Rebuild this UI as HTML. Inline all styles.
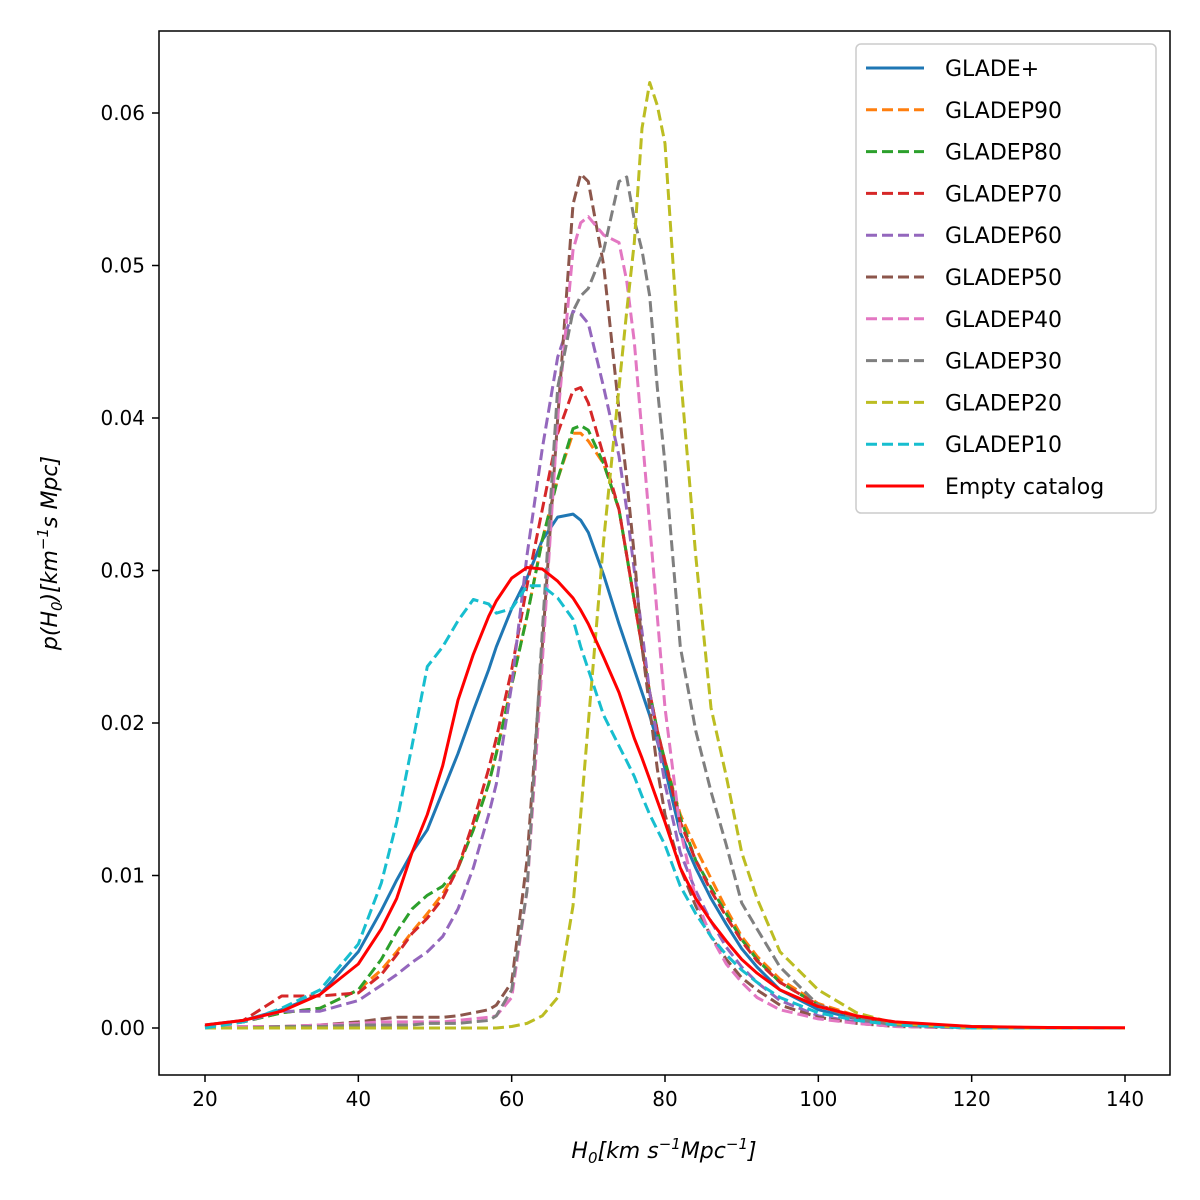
<!DOCTYPE html>
<html><head><meta charset="utf-8"><style>
html,body{margin:0;padding:0;background:#fff;}
svg{display:block;font-family:"DejaVu Sans","Liberation Sans",sans-serif;}
</style></head><body>
<svg id="chart" width="1200" height="1200" viewBox="0 0 1200 1200">
<rect x="0" y="0" width="1200" height="1200" fill="#fff"/>
<g id="plot"></g>
<rect x="159" y="31" width="1011" height="1044" fill="none" stroke="#000" stroke-width="1.5"/>
<g id="xticks"></g><g id="yticks"></g>
<text x="664" y="1158" text-anchor="middle" font-size="22" font-style="italic">H<tspan font-size="15" dy="5">0</tspan><tspan dy="-5">[km s</tspan><tspan font-size="15" dy="-9">−1</tspan><tspan dy="9">Mpc</tspan><tspan font-size="15" dy="-9">−1</tspan><tspan dy="9">]</tspan></text>
<text transform="translate(57,553) rotate(-90)" text-anchor="middle" font-size="22" font-style="italic">p(H<tspan font-size="15" dy="5">0</tspan><tspan dy="-5">)[km</tspan><tspan font-size="15" dy="-9">−1</tspan><tspan dy="9">s Mpc]</tspan></text>
<g id="legend"></g>
</svg>
<script>
const H = [20,25,30,35,40,43,45,47,49,51,53,55,57,58,60,62,64,66,68,69,70,72,74,75,76,77,78,79,80,82,84,86,88,90,92,95,100,105,110,120,130,140];
const gladePlus = [.0002,.0005,.0012,.0022,.005,.0077,.0097,.0115,.013,.0155,.018,.0208,.0235,.025,.0275,.0295,.032,.0335,.0337,.0333,.0325,.0297,.0265,.025,.0235,.022,.0205,.0188,.017,.0128,.0105,.0085,.0068,.0052,.004,.0025,.0012,.0006,.0003,.0001,0,0];
const gladeP90 = [.0001,.0004,.001,.0013,.0025,.0038,.005,.0063,.0075,.0088,.0105,.013,.016,.018,.0225,.027,.032,.036,.039,.039,.0385,.037,.034,.031,.028,.025,.022,.0195,.0175,.014,.0118,.0098,.0078,.006,.0047,.0032,.0016,.0008,.0003,.0001,0,0];
const gladeP80 = [.0001,.0004,.001,.0013,.0025,.0045,.0063,.0078,.0087,.0093,.0105,.013,.016,.018,.0225,.027,.032,.036,.0393,.0395,.0392,.037,.034,.031,.028,.025,.022,.0195,.0175,.0138,.011,.0092,.0075,.0058,.0045,.003,.0015,.0007,.0003,.00005,0,0];
const gladeP70 = [.0001,.0005,.0021,.0021,.0023,.0035,.0048,.0062,.0072,.0085,.0105,.0135,.017,.019,.0235,.029,.034,.039,.0418,.042,.041,.0375,.034,.031,.028,.025,.022,.0195,.0175,.0135,.011,.009,.0073,.0057,.0044,.003,.0015,.0007,.0003,.00005,0,0];
const gladeP60 = [.0001,.0004,.0011,.0011,.0018,.0028,.0035,.0043,.005,.006,.0078,.0105,.014,.016,.0225,.031,.038,.044,.047,.0468,.0462,.042,.0375,.034,.03,.026,.022,.019,.016,.0115,.009,.007,.0053,.004,.003,.0018,.0008,.0004,.0002,0,0,0];
const gladeP50 = [0,.0001,.0001,.0002,.0004,.0006,.0007,.0007,.0007,.0007,.0008,.001,.0012,.0015,.003,.011,.025,.04,.054,.056,.0555,.05,.0405,.036,.031,.025,.021,.017,.014,.0105,.008,.006,.0045,.0033,.0025,.0015,.0007,.0003,.0001,0,0,0];
const gladeP40 = [0,.0001,.0001,.0002,.0003,.0004,.0004,.0004,.0004,.0004,.0005,.0006,.0007,.0008,.002,.009,.024,.04,.051,.0528,.0532,.052,.0515,.049,.045,.039,.033,.027,.021,.013,.0085,.006,.0042,.003,.002,.0012,.0006,.0003,.0001,0,0,0];
const gladeP30 = [0,0,.0001,.0001,.0002,.0002,.0002,.0002,.0003,.0003,.0003,.0004,.0005,.0008,.0025,.009,.026,.042,.047,.048,.0485,.051,.0555,.0558,.053,.051,.048,.042,.037,.025,.0195,.0155,.012,.0082,.0065,.004,.0015,.0006,.0002,0,0,0];
const gladeP20 = [0,0,0,0,0,0,0,0,0,0,0,0,0,0,.0001,.0003,.0008,.002,.008,.014,.02,.032,.042,.047,.0515,.059,.062,.0605,.058,.043,.031,.021,.0165,.0115,.0085,.005,.0025,.001,.0003,0,0,0];
const gladeP10 = [0,.0004,.0013,.0025,.0055,.0095,.0135,.0185,.0237,.025,.0267,.0281,.0278,.0272,.0275,.029,.029,.0282,.0268,.025,.0235,.0205,.0185,.0175,.0165,.0152,.014,.013,.012,.0093,.0075,.006,.0048,.0038,.003,.002,.001,.0005,.0002,0,0,0];
const emptyCatalog = [.0002,.0005,.0011,.0022,.0042,.0065,.0085,.0115,.014,.0172,.0215,.0245,.027,.028,.0295,.0302,.0301,.0293,.0282,.0274,.0265,.0243,.022,.0205,.019,.0177,.0163,.0149,.0135,.0105,.0085,.007,.0057,.0045,.0036,.0025,.0014,.0008,.0004,.0001,.00003,.00001];
const seriesNames = ["GLADE+","GLADEP90","GLADEP80","GLADEP70","GLADEP60","GLADEP50","GLADEP40","GLADEP30","GLADEP20","GLADEP10","Empty catalog"];
const seriesValues = [gladePlus,gladeP90,gladeP80,gladeP70,gladeP60,gladeP50,gladeP40,gladeP30,gladeP20,gladeP10,emptyCatalog];
const seriesColors = ["#1f77b4","#ff7f0e","#2ca02c","#d62728","#9467bd","#8c564b","#e377c2","#7f7f7f","#bcbd22","#17becf","#ff0000"];
const seriesDashed = [false,true,true,true,true,true,true,true,true,true,false];
const xTicks = [20,40,60,80,100,120,140];
const yTicks = [0,0.01,0.02,0.03,0.04,0.05,0.06];
const yTickLabels = ["0.00","0.01","0.02","0.03","0.04","0.05","0.06"];

const NS="http://www.w3.org/2000/svg";
function xs(h){return 205+(h-20)*(920/120);}
function ys(p){return 1028-p*(915/0.06);}
function mk(t,a,parent){const e=document.createElementNS(NS,t);for(const k in a)e.setAttribute(k,a[k]);parent.appendChild(e);return e;}
const plot=document.getElementById('plot');
seriesValues.forEach((vals,i)=>{
  const d=vals.map((v,j)=>(j?'L':'M')+xs(H[j]).toFixed(1)+' '+ys(v).toFixed(1)).join(' ');
  const p=mk('path',{d:d,fill:'none',stroke:seriesColors[i],'stroke-width':3,'stroke-linejoin':'round'},plot);
  if(seriesDashed[i])p.setAttribute('stroke-dasharray','11 5');
  
  
});
const xg=document.getElementById('xticks');
xTicks.forEach(t=>{
  const l=mk('line',{x1:xs(t),x2:xs(t),y1:1075,y2:1082,stroke:'#000','stroke-width':1.5},xg);
  
  
  const tx=mk('text',{x:xs(t),y:1106,'text-anchor':'middle','font-size':20},xg);
  tx.textContent=t;
  
  
});
const yg=document.getElementById('yticks');
yTicks.forEach((t,i)=>{
  const l=mk('line',{x1:152,x2:159,y1:ys(t),y2:ys(t),stroke:'#000','stroke-width':1.5},yg);
  
  
  const tx=mk('text',{x:145,y:ys(t)+7,'text-anchor':'end','font-size':20},yg);
  tx.textContent=yTickLabels[i];
  
  
});
const lg=document.getElementById('legend');


mk('rect',{x:856,y:44,width:300,height:469,rx:5,fill:'#fff','fill-opacity':0.8,stroke:'#ccc','stroke-width':1.5},lg);
seriesNames.forEach((n,i)=>{
  const y=68+i*41.8;
  const g=mk('g',{},lg);
  
  
  const l=mk('line',{x1:866,x2:924,y1:y,y2:y,stroke:seriesColors[i],'stroke-width':3},g);
  if(seriesDashed[i])l.setAttribute('stroke-dasharray','11 5');
  const tx=mk('text',{x:945,y:y+8,'font-size':22},g);
  tx.textContent=n;
});
</script>
</body></html>
